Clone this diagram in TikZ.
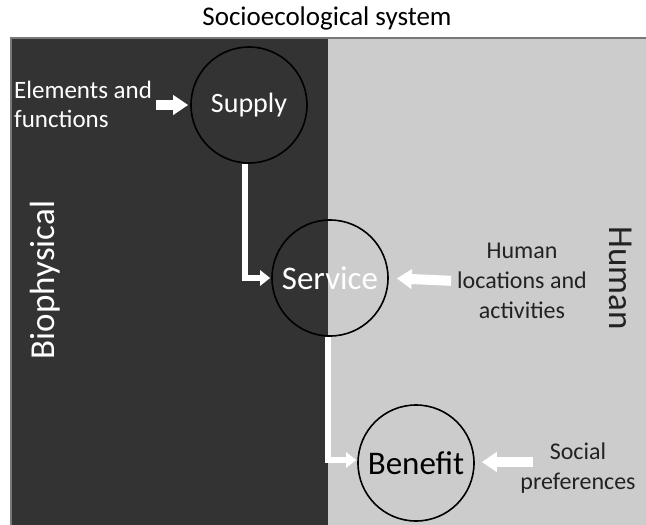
\documentclass[tikz,border=0pt]{standalone}
\usepackage{fontspec}
\setmainfont{Carlito}
\usetikzlibrary{arrows.meta, positioning}

\definecolor{biodark}{HTML}{333333}
\definecolor{humlight}{HTML}{CCCCCC}
\definecolor{edgegray}{HTML}{787878}
\definecolor{humtext}{HTML}{222222}

\begin{document}
\begin{tikzpicture}[x=1pt, y=-1pt,
    stage/.style={circle, draw=black, line width=1.6pt, minimum size=116pt, inner sep=0pt},
    flow/.style={draw=white, line width=6pt, -{Triangle[length=10pt, width=15pt]}},
    input/.style={draw=white, line width=10pt, -{Triangle[length=15pt, width=19pt]}},
    side/.style={font=\fontsize{24}{30}\selectfont, align=center, inner sep=2pt}]
  \useasboundingbox (0,0) rectangle (646,525);
  % the two halves of the system
  \fill[biodark] (11,38) rectangle (328,525);
  \fill[humlight] (328,38) rectangle (646,525);
  \draw[edgegray, line width=2pt] (646,38) -- (11,38) -- (11,525);

  \node[font=\fontsize{27}{32}\selectfont] (title) at (327,18) {Socioecological system};
  \node[rotate=90, text=white, font=\fontsize{35}{40}\selectfont] (bio) at (45,280) {Biophysical};
  \node[rotate=-90, text=humtext, font=\fontsize{35}{40}\selectfont] (hum) at (621,278) {Human};

  % stages
  \node[stage, text=white, font=\fontsize{28}{32}\selectfont] (supply) at (249,105) {Supply};
  \node[stage, text=white, font=\fontsize{33}{36}\selectfont] (service) at (330,278) {Service};
  \node[stage, text=black, font=\fontsize{33}{36}\selectfont] (benefit) at (416,463) {Benefit};

  % inputs
  \node[side, text=white, align=left, anchor=west, font=\fontsize{25}{29}\selectfont] (elem) at (12,104) {Elements and\\ functions};
  \node[side, text=humtext] (human) at (522,281) {Human\\ locations and\\ activities};
  \node[side, text=humtext] (social) at (578,468) {Social\\ preferences};
  \coordinate (socialtail) at (533,462);

  % connectors
  \draw[flow] ([xshift=-4pt]supply.south) |- ([xshift=-1pt]service.west);
  \draw[flow] ([xshift=-2pt]service.south) |- ([xshift=-1pt,yshift=3pt]benefit.west);
  \draw[input, shorten <=2pt, shorten >=2pt] (elem.east |- supply.west) -- (supply.west);
  \draw[input, shorten <=4pt, shorten >=8pt] (human.west) -- (service.east);
  \draw[input, shorten >=7pt] (socialtail) -- (benefit.east |- socialtail);
\end{tikzpicture}
\end{document}
